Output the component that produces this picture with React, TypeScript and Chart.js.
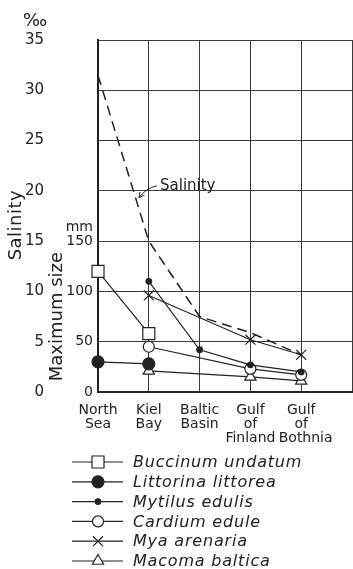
import React, { useEffect, useRef } from 'react';
import { Chart, registerables } from 'chart.js';

Chart.register(...registerables);

// ---------- data ----------
const categories: string[][] = [
  ['North', 'Sea'],
  ['Kiel', 'Bay'],
  ['Baltic', 'Basin'],
  ['Gulf', 'of', 'Finland'],
  ['Gulf', 'of', '  Bothnia'],
];
const salinity = [31.5, 15, 7.5, 5.9, 3.7]; // ‰
const buccinum = [120, 58, null, null, null]; // mm
const littorina = [30, 28, null, null, null];
const mytilus = [null, 110, 42, 27, 20];
const cardium = [null, 45, null, 23, 17];
const mya = [null, 96, null, 52, 37];
const macoma = [null, 21, null, 15, 11];

const speciesNames = [
  'Buccinum undatum',
  'Littorina littorea',
  'Mytilus edulis',
  'Cardium edule',
  'Mya arenaria',
  'Macoma baltica',
];
const salinityMax = 35;
const salinityStep = 5;
const sizeMax = 350;
const sizeStep = 50;
const sizeLabelMax = 150;

// ---------- styles ----------
const INK = '#222';
const GRID = '#3a3a3a';
const FONT = "'DejaVu Sans', sans-serif";

const toPoints = (arr: (number | null)[]) =>
  arr.map((v, i) => (v === null ? null : { x: i, y: v })).filter(Boolean) as { x: number; y: number }[];

const speciesData = [buccinum, littorina, mytilus, cardium, mya, macoma];
const markerStyles = [
  { pointStyle: 'rect', radius: 8.5, fill: '#fff' },
  { pointStyle: 'circle', radius: 6, fill: INK },
  { pointStyle: 'circle', radius: 2.8, fill: INK },
  { pointStyle: 'circle', radius: 5.5, fill: '#fff' },
  { pointStyle: 'crossRot', radius: 7, fill: '#fff' },
  { pointStyle: 'triangle', radius: 6.5, fill: '#fff' },
];

function drawMarker(ctx: CanvasRenderingContext2D, style: string, r: number, x: number, y: number) {
  ctx.beginPath();
  if (style === 'rect') {
    const s = Math.SQRT1_2 * r;
    ctx.rect(x - s, y - s, 2 * s, 2 * s);
    ctx.fill();
    ctx.stroke();
  } else if (style === 'circle') {
    ctx.arc(x, y, r, 0, Math.PI * 2);
    ctx.fill();
    ctx.stroke();
  } else if (style === 'crossRot') {
    const o = Math.SQRT1_2 * r;
    ctx.moveTo(x - o, y - o);
    ctx.lineTo(x + o, y + o);
    ctx.moveTo(x - o, y + o);
    ctx.lineTo(x + o, y - o);
    ctx.stroke();
  } else if (style === 'triangle') {
    const a = (Math.PI * 2) / 3;
    ctx.moveTo(x, y - r);
    ctx.lineTo(x + Math.sin(a) * r, y - Math.cos(a) * r);
    ctx.lineTo(x + Math.sin(2 * a) * r, y - Math.cos(2 * a) * r);
    ctx.closePath();
    ctx.fill();
    ctx.stroke();
  }
}

const annotations = {
  id: 'annotations',
  afterDraw(chart: any) {
    const { ctx, scales } = chart;
    const y = scales.y;
    const y2 = scales.y2;
    ctx.save();
    ctx.fillStyle = INK;
    ctx.strokeStyle = INK;

    // per-mille sign
    ctx.font = `18px ${FONT}`;
    ctx.textAlign = 'center';
    ctx.textBaseline = 'middle';
    ctx.fillText('‰', 35, 21);

    // Salinity axis title
    ctx.save();
    ctx.translate(16, y.getPixelForValue(16.6));
    ctx.rotate(-Math.PI / 2);
    ctx.font = `18px ${FONT}`;
    (ctx as any).letterSpacing = '0.5px';
    ctx.fillText('Salinity', 0, 0);
    ctx.restore();

    // Maximum size axis title
    ctx.save();
    ctx.translate(57, y2.getPixelForValue(sizeLabelMax / 2));
    ctx.rotate(-Math.PI / 2);
    ctx.font = `18px ${FONT}`;
    ctx.fillText('Maximum size', 0, 0);
    ctx.restore();

    // mm unit
    ctx.font = `14px ${FONT}`;
    ctx.textAlign = 'right';
    ctx.fillText('mm', 93, y2.getPixelForValue(sizeLabelMax) - 14);

    // Salinity line annotation
    ctx.font = `15px ${FONT}`;
    ctx.textAlign = 'left';
    ctx.textBaseline = 'alphabetic';
    const baseY = y.getPixelForValue(20) - 1;
    ctx.fillText('Salinity', 160, baseY);
    ctx.lineWidth = 1;
    ctx.beginPath();
    ctx.moveTo(157, baseY - 4);
    ctx.quadraticCurveTo(146, baseY - 2, 139, baseY + 8);
    ctx.stroke();
    ctx.beginPath();
    ctx.moveTo(139, baseY + 8);
    ctx.lineTo(140, baseY + 2);
    ctx.moveTo(139, baseY + 8);
    ctx.lineTo(144.5, baseY + 5);
    ctx.stroke();

    // legend
    const rowY0 = 462;
    const rowGap = 19.8;
    ctx.font = `italic 16px ${FONT}`;
    (ctx as any).letterSpacing = '0.8px';
    ctx.textBaseline = 'middle';
    speciesNames.forEach((name, i) => {
      const ry = rowY0 + i * rowGap;
      ctx.lineWidth = 1.2;
      ctx.strokeStyle = INK;
      ctx.beginPath();
      ctx.moveTo(72, ry);
      ctx.lineTo(123, ry);
      ctx.stroke();
      const m = markerStyles[i];
      ctx.fillStyle = m.fill;
      drawMarker(ctx, m.pointStyle, m.radius, 98, ry);
      ctx.fillStyle = INK;
      ctx.fillText(name, 133, ry + 1);
    });
    ctx.restore();
  },
};

export default function App() {
  const ref = useRef<HTMLCanvasElement | null>(null);

  useEffect(() => {
    document.body.style.margin = '0';
    const canvas = ref.current;
    if (!canvas) return;

    const speciesSets = speciesData.map((arr, i) => ({
      label: speciesNames[i],
      data: toPoints(arr),
      yAxisID: 'y2',
      borderColor: INK,
      borderWidth: 1.2,
      pointStyle: markerStyles[i].pointStyle as any,
      pointRadius: markerStyles[i].radius,
      pointBackgroundColor: markerStyles[i].fill,
      pointBorderColor: INK,
      pointBorderWidth: 1.2,
      tension: 0,
      clip: false as any,
      fill: false,
    }));

    const chart = new Chart(canvas, {
      type: 'line',
      data: {
        datasets: [
          ...speciesSets,
          {
            label: 'Salinity',
            data: toPoints(salinity),
            yAxisID: 'y',
            borderColor: INK,
            borderWidth: 1.5,
            borderDash: [10, 6],
            pointRadius: 0,
            tension: 0,
            clip: false as any,
            fill: false,
          },
        ],
      },
      options: {
        animation: false,
        responsive: false,
        devicePixelRatio: 1,
        layout: { autoPadding: false, padding: { left: 12, top: 40, right: 1, bottom: 117 } },
        plugins: {
          legend: { display: false },
          tooltip: { enabled: false },
          title: { display: false },
        },
        scales: {
          x: {
            type: 'linear',
            min: 0,
            max: categories.length,
            ticks: {
              stepSize: 1,
              autoSkip: false,
              maxRotation: 0,
              minRotation: 0,
              padding: 11,
              color: INK,
              font: { family: FONT, size: 14, lineHeight: 1.0 },
              callback: (v: any) => (categories[v] ? categories[v] : ''),
            },
            grid: { color: GRID, lineWidth: 1, drawTicks: false },
            border: { display: true, color: INK, width: 2 },
            afterFit: (s: any) => {
              s.height = 60;
              s.paddingLeft = 0;
              s.paddingRight = 0;
            },
          },
          y: {
            type: 'linear',
            position: 'left',
            weight: 1,
            min: 0,
            max: salinityMax,
            ticks: {
              stepSize: salinityStep,
              padding: 22,
              color: INK,
              font: { family: FONT, size: 15 },
            },
            grid: { color: GRID, lineWidth: 1, drawTicks: false },
            border: { display: false },
            afterFit: (s: any) => {
              s.width = 54;
            },
          },
          y2: {
            type: 'linear',
            position: 'left',
            weight: 0,
            min: 0,
            max: sizeMax,
            ticks: {
              stepSize: sizeStep,
              padding: 5,
              color: INK,
              font: { family: FONT, size: 14 },
              callback: (v: any) => (v <= sizeLabelMax ? String(v) : ''),
            },
            grid: { display: false, drawTicks: false },
            border: { display: true, color: INK, width: 2 },
            afterFit: (s: any) => {
              s.width = 32;
            },
          },
        },
      },
      plugins: [annotations],
    });

    return () => chart.destroy();
  }, []);

  return (
    <div style={{ position: 'fixed', left: 0, top: 0, width: 353, height: 569, background: '#fff' }}>
      <canvas ref={ref} width={353} height={569} style={{ width: 353, height: 569, display: 'block' }} />
    </div>
  );
}
